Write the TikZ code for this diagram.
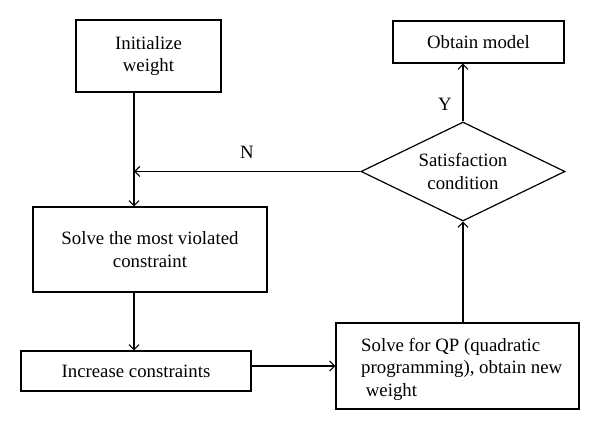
\documentclass[tikz,border=0pt]{standalone}
\usepackage{fontspec}
\setmainfont{Liberation Serif}
\usetikzlibrary{shapes.geometric,arrows.meta,calc}
\begin{document}
\begin{tikzpicture}[x=1pt,y=-1pt,
  box/.style={draw,line width=1.2pt,inner sep=0pt,font=\fontsize{18.8}{22.5}\selectfont,align=center},
  arr/.style={line width=1.2pt,-{Straight Barb[length=5pt,width=10pt,line width=1.1pt]}},
  lbl/.style={font=\fontsize{18.8}{22.5}\selectfont}]
\useasboundingbox (0,0) rectangle (600,430);
\coordinate (spine) at (134,0);
\node[box,minimum width=145pt,minimum height=72pt] (init) at (148.5,56) {Initialize\\weight};
\node[box,minimum width=171pt,minimum height=42pt] (obtain) at (478.5,42) {Obtain model};
\node[box,shape=diamond,aspect=2.06,minimum width=204pt,minimum height=99pt] (dia) at (463,171.5) {Satisfaction\\condition};
\node[box,minimum width=234pt,minimum height=85pt] (solve) at (150,249.5) {Solve the most violated\\constraint};
\node[box,minimum width=230pt,minimum height=40pt] (inc) at (136,371) {Increase constraints};
\node[box,minimum width=243pt,minimum height=86pt] (qp) at (457.5,366) {};
\node[lbl,inner sep=0pt,align=left,anchor=west] (qptext) at (361,369) {Solve for QP (quadratic\\programming), obtain new\\\ weight};
\draw[arr] (init.south -| spine) -- (solve.north -| spine);
\draw[arr] (solve.south -| spine) -- (inc.north -| spine);
\draw[arr] (inc.east |- qp.west) -- (qp.west);
\draw[arr] (qp.north -| dia.south) -- (dia.south);
\draw[arr] (dia.north) -- (dia.north |- obtain.south);
\draw[arr] (dia.west) -- (dia.west -| spine);
\node[lbl] (n) at (247,152) {N};
\node[lbl] (y) at (445,104) {Y};
\end{tikzpicture}
\end{document}
